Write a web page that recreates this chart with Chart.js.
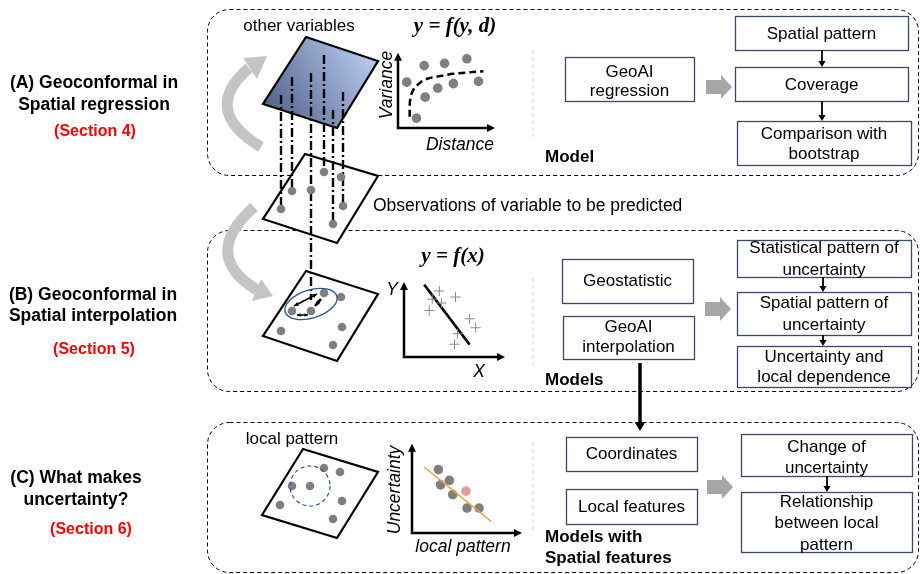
<!DOCTYPE html>
<html>
<head>
<meta charset="utf-8">
<script src="https://cdn.jsdelivr.net/npm/chart.js@4.4.0/dist/chart.umd.min.js"></script>
<style>
html, body { margin: 0; padding: 0; background: #fff; }
#wrap { position: relative; width: 920px; height: 574px; overflow: hidden; }
#wrap canvas { position: absolute; }
</style>
</head>
<body>
<div id="wrap">
  <canvas id="diagram" width="920" height="574" style="left:0;top:0"></canvas>
  <canvas id="plotA"></canvas>
  <canvas id="plotB"></canvas>
  <canvas id="plotC"></canvas>
</div>
<script>
// (A) variance vs distance
const distValues = [1.9, 0.9, 2.7, 4.8, 7.1, 2.8, 4.1, 5.7, 8.3];
const varianceValues = [1.3, 6.1, 8.3, 8.6, 9.2, 4.1, 5.3, 5.9, 6.2];
const fitDist = [1.2, 1.25, 1.55, 2.3, 3.0, 4.3, 5.7, 8.8];
const fitVariance = [1.5, 3.7, 5.0, 6.05, 6.55, 6.9, 7.2, 7.55];

// (B) y = f(x)
const obsX = [3.5, 2.8, 3.7, 5.1, 2.5, 6.5, 7.1, 5.3, 5.0];
const obsY = [8.8, 7.7, 7.2, 8.0, 6.2, 5.1, 3.9, 3.1, 1.7];
const regX = [2.0, 6.5];
const regY = [9.65, 1.65];

// (C) uncertainty vs local pattern
const localX = [2.4, 3.4, 2.6, 3.7, 5.0, 6.1];
const uncertY = [7.1, 5.9, 5.4, 4.3, 2.8, 2.8];
const highlightX = [4.9];
const highlightY = [4.7];
const trendX = [1.1, 7.2];
const trendY = [7.4, 1.3];

// labels
const rowTitles = [['(A) Geoconformal in', 'Spatial regression'], ['(B) Geoconformal in', 'Spatial interpolation'], ['(C) What makes', 'uncertainty?']];
const sectionLabels = ['(Section 4)', '(Section 5)', '(Section 6)'];
const modelLabels = [['Model'], ['Models'], ['Models with', 'Spatial features']];

function pts(xs, ys) {
    return xs.map(function (x, i) { return {x: x, y: ys[i]}; });
}

const SANS = '"Liberation Sans", Arial, sans-serif';
const SERIF = '"Liberation Serif", "Times New Roman", serif';
const BOX = '#3a4766';
const DOT = '#7f7f7f';

const boxes = [
    {r: [565, 57, 694, 101], t: ['GeoAI', 'regression'], ty: [72, 91]},
    {r: [735, 16, 908, 50], t: ['Spatial pattern'], ty: [34]},
    {r: [735, 67, 908, 101], t: ['Coverage'], ty: [85]},
    {r: [737, 121, 911, 165], t: ['Comparison with', 'bootstrap'], ty: [134, 154]},
    {r: [562, 259, 693, 303], t: ['Geostatistic'], ty: [281]},
    {r: [563, 316, 694, 359], t: ['GeoAI', 'interpolation'], ty: [327, 347]},
    {r: [737, 240, 911, 277], t: ['Statistical pattern of', 'uncertainty'], ty: [248, 270]},
    {r: [737, 292, 911, 335], t: ['Spatial pattern of', 'uncertainty'], ty: [303, 325]},
    {r: [737, 346, 911, 387], t: ['Uncertainty and', 'local dependence'], ty: [357, 377]},
    {r: [566, 437, 697, 471], t: ['Coordinates'], ty: [454]},
    {r: [566, 489, 697, 524], t: ['Local features'], ty: [507]},
    {r: [741, 434, 912, 476], t: ['Change of', 'uncertainty'], ty: [447, 468]},
    {r: [741, 492, 912, 552], t: ['Relationship', 'between local', 'pattern'], ty: [502, 523, 545]}
];

const diagramPlugin = {
    id: 'diagram',
    beforeDraw: function (chart) {
        const ctx = chart.ctx;
        const sx = chart.scales.x, sy = chart.scales.y;
        const X = function (v) { return sx.getPixelForValue(v); };
        const Y = function (v) { return sy.getPixelForValue(v); };

        function text(s, x, y, font, color, align) {
            ctx.font = font;
            ctx.fillStyle = color || '#000';
            ctx.textAlign = align || 'center';
            ctx.textBaseline = 'middle';
            ctx.fillText(s, X(x), Y(y));
        }
        function poly(p) {
            ctx.beginPath();
            ctx.moveTo(X(p[0][0]), Y(p[0][1]));
            for (let i = 1; i < p.length; i++) ctx.lineTo(X(p[i][0]), Y(p[i][1]));
            ctx.closePath();
        }
        function dot(x, y) {
            ctx.beginPath();
            ctx.arc(X(x), Y(y), 4.3, 0, Math.PI * 2);
            ctx.fillStyle = DOT;
            ctx.fill();
        }
        function downArrow(x, y1, y2, w, head) {
            ctx.strokeStyle = '#000';
            ctx.lineWidth = w;
            ctx.setLineDash([]);
            ctx.beginPath();
            ctx.moveTo(X(x), Y(y1));
            ctx.lineTo(X(x), Y(y2 - head));
            ctx.stroke();
            ctx.fillStyle = '#000';
            poly([[x - head * 0.6, y2 - head], [x + head * 0.6, y2 - head], [x, y2]]);
            ctx.fill();
        }
        function blockArrow(x1, x2, yc) {
            ctx.fillStyle = '#a6a6a6';
            poly([[x1, yc - 7], [x2 - 11, yc - 7], [x2 - 11, yc - 12], [x2, yc], [x2 - 11, yc + 12], [x2 - 11, yc + 7], [x1, yc + 7]]);
            ctx.fill();
        }

        ctx.save();
        ctx.fillStyle = '#fff';
        ctx.fillRect(0, 0, chart.width, chart.height);

        // dashed panels
        ctx.strokeStyle = '#000';
        ctx.lineWidth = 1;
        ctx.setLineDash([4, 3]);
        [[207, 9, 918, 175], [207, 230, 918, 391], [207, 422, 918, 572]].forEach(function (p) {
            ctx.beginPath();
            ctx.roundRect(X(p[0]) + 0.5, Y(p[1]) + 0.5, X(p[2]) - X(p[0]), Y(p[3]) - Y(p[1]), 22);
            ctx.stroke();
        });
        // faint separators
        ctx.strokeStyle = '#e2e2e2';
        ctx.lineWidth = 1.5;
        [[50, 137], [278, 365], [442, 530]].forEach(function (s) {
            ctx.beginPath();
            ctx.moveTo(X(533), Y(s[0]));
            ctx.lineTo(X(533), Y(s[1]));
            ctx.stroke();
        });
        ctx.setLineDash([]);

        // curved gray arrows
        ctx.strokeStyle = '#c4c4c4';
        ctx.lineWidth = 11;
        ctx.beginPath();
        ctx.moveTo(X(261), Y(147));
        ctx.quadraticCurveTo(X(200), Y(110), X(249), Y(68));
        ctx.stroke();
        ctx.fillStyle = '#c4c4c4';
        poly([[243, 58], [257, 79], [267, 56]]);
        ctx.fill();
        ctx.beginPath();
        ctx.moveTo(X(254), Y(207));
        ctx.quadraticCurveTo(X(200), Y(255), X(257), Y(290));
        ctx.stroke();
        poly([[261, 279], [252, 301], [273, 296]]);
        ctx.fill();

        // top plane (other variables)
        const g = ctx.createLinearGradient(X(265), Y(118), X(372), Y(52));
        g.addColorStop(0, '#4e5d85');
        g.addColorStop(1, '#b9cdf0');
        poly([[306, 37], [378, 61], [337, 128], [263, 104]]);
        ctx.fillStyle = g;
        ctx.fill();
        ctx.lineWidth = 2.2;
        ctx.strokeStyle = '#000';
        ctx.stroke();

        // white planes
        [[[305, 154], [378, 176], [337, 243], [263, 219]],
         [[306, 271], [378, 294], [337, 361], [263, 336]],
         [[303, 449], [378, 472], [337, 538], [262, 515]]].forEach(function (p) {
            poly(p);
            ctx.fillStyle = '#fff';
            ctx.fill();
            ctx.stroke();
        });

        // dash-dot projection lines
        ctx.setLineDash([9, 3, 2, 3]);
        ctx.lineWidth = 2.4;
        [[281, 95, 209], [292, 77, 191], [311, 73, 300], [324, 55, 172], [333, 110, 224], [343, 92, 206]].forEach(function (l) {
            ctx.beginPath();
            ctx.moveTo(X(l[0]), Y(l[1]));
            ctx.lineTo(X(l[0]), Y(l[2]));
            ctx.stroke();
        });
        ctx.setLineDash([]);

        [[324, 172], [341, 177], [292, 191], [311, 190], [281, 209], [333, 224], [343, 206],
         [324, 293], [341, 297], [292, 311], [311, 311], [281, 331], [342, 327], [333, 345],
         [324, 468], [340, 472], [292, 486], [310, 486], [280, 505], [342, 501], [333, 519]].forEach(function (d) {
            dot(d[0], d[1]);
        });

        // neighbourhood ellipse + circle
        ctx.strokeStyle = '#2f5597';
        ctx.lineWidth = 1.4;
        ctx.beginPath();
        ctx.ellipse(X(311), Y(304), 27, 14, -0.3, 0, Math.PI * 2);
        ctx.stroke();
        ctx.setLineDash([4, 3]);
        ctx.lineWidth = 1.2;
        ctx.beginPath();
        ctx.arc(X(310), Y(486), 20, 0, Math.PI * 2);
        ctx.stroke();
        ctx.setLineDash([]);

        // small distance arrows
        ctx.strokeStyle = '#000';
        ctx.fillStyle = '#000';
        ctx.lineWidth = 1.5;
        function dbl(x1, y1, x2, y2, h) {
            ctx.beginPath();
            ctx.moveTo(X(x1), Y(y1));
            ctx.lineTo(X(x2), Y(y2));
            ctx.stroke();
            const a = Math.atan2(y2 - y1, x2 - x1);
            [[x2, y2, a], [x1, y1, a + Math.PI]].forEach(function (e) {
                poly([[e[0], e[1]],
                      [e[0] - h * Math.cos(e[2] - 0.45), e[1] - h * Math.sin(e[2] - 0.45)],
                      [e[0] - h * Math.cos(e[2] + 0.45), e[1] - h * Math.sin(e[2] + 0.45)]]);
                ctx.fill();
            });
        }
        dbl(294, 306, 317, 294, 5);
        dbl(297, 315, 308, 315, 4);
        ctx.lineWidth = 2.5;
        dbl(315, 306, 321, 299, 5);

        // texts
        text('other variables', 299, 26, '17px ' + SANS);
        text('y = f(y, d)', 455, 27, 'bold italic 21px ' + SERIF);
        text('y = f(x)', 453, 257, 'bold italic 21px ' + SERIF);
        text('Observations of variable to be predicted', 373, 206, '17.5px ' + SANS, '#000', 'left');
        text('local pattern', 292, 439, '17px ' + SANS);

        const titleX = [94, 93, 76], titleY = [[83, 105], [295, 316], [478, 500]];
        const secX = [95, 94, 91], secY = [132, 350, 530];
        rowTitles.forEach(function (t, i) {
            t.forEach(function (s, j) { text(s, titleX[i], titleY[i][j], 'bold 17.5px ' + SANS); });
            text(sectionLabels[i], secX[i], secY[i], 'bold 16px ' + SANS, '#ff0000');
        });
        const modelY = [[157], [380], [537, 558]];
        modelLabels.forEach(function (m, i) {
            m.forEach(function (s, j) { text(s, 545, modelY[i][j], 'bold 17px ' + SANS, '#000', 'left'); });
        });

        // boxes
        boxes.forEach(function (b) {
            ctx.strokeStyle = BOX;
            ctx.lineWidth = 1.3;
            ctx.strokeRect(X(b.r[0]) + 0.5, Y(b.r[1]) + 0.5, X(b.r[2]) - X(b.r[0]), Y(b.r[3]) - Y(b.r[1]));
            const cx = (b.r[0] + b.r[2]) / 2;
            b.t.forEach(function (s, j) { text(s, cx, b.ty[j], '17px ' + SANS); });
        });

        // arrows between boxes
        [[822, 50, 67], [822, 101, 121], [823, 277, 292], [823, 335, 346], [827, 476, 492]].forEach(function (a) {
            downArrow(a[0], a[1], a[2], 1.8, 6);
        });
        downArrow(640, 363, 431, 3.5, 9);
        blockArrow(706, 732, 87);
        blockArrow(705, 731, 309);
        blockArrow(707, 733, 487);

        ctx.restore();
    }
};

new Chart(document.getElementById('diagram').getContext('2d'), {
    type: 'scatter',
    data: {datasets: []},
    options: {
        responsive: false,
        animation: false,
        layout: {padding: 0},
        scales: {
            x: {display: false, min: 0, max: 920},
            y: {display: false, min: 0, max: 574, reverse: true}
        },
        plugins: {legend: {display: false}, tooltip: {enabled: false}}
    },
    plugins: [diagramPlugin]
});

function axesPlugin(xLabel, yLabel) {
    return {
        id: 'axes',
        afterDraw: function (chart) {
            const ctx = chart.ctx, a = chart.chartArea;
            ctx.save();
            ctx.strokeStyle = '#000';
            ctx.fillStyle = '#000';
            ctx.lineWidth = 2.5;
            ctx.beginPath();
            ctx.moveTo(a.left, a.top + 6);
            ctx.lineTo(a.left, a.bottom);
            ctx.lineTo(a.right - 6, a.bottom);
            ctx.stroke();
            ctx.beginPath();
            ctx.moveTo(a.left - 4, a.top + 8);
            ctx.lineTo(a.left + 4, a.top + 8);
            ctx.lineTo(a.left, a.top);
            ctx.fill();
            ctx.beginPath();
            ctx.moveTo(a.right - 8, a.bottom - 4);
            ctx.lineTo(a.right - 8, a.bottom + 4);
            ctx.lineTo(a.right, a.bottom);
            ctx.fill();
            ctx.font = 'italic 17.5px ' + SANS;
            ctx.textAlign = 'center';
            ctx.textBaseline = 'middle';
            ctx.fillText(xLabel.s, a.left + xLabel.dx, a.bottom + xLabel.dy);
            ctx.translate(a.left + yLabel.dx, a.bottom + yLabel.dy);
            if (yLabel.rot) ctx.rotate(-Math.PI / 2);
            ctx.fillText(yLabel.s, 0, 0);
            ctx.restore();
        }
    };
}

function miniPlot(id, ox, oy, w, h, datasets, xLabel, yLabel) {
    const padL = 32, padR = 6, padT = 4, padB = 28;
    const cv = document.getElementById(id);
    cv.width = w + padL + padR;
    cv.height = h + padT + padB;
    cv.style.left = (ox - padL) + 'px';
    cv.style.top = (oy - h - padT) + 'px';
    return new Chart(cv.getContext('2d'), {
        type: 'scatter',
        data: {datasets: datasets},
        options: {
            responsive: false,
            animation: false,
            layout: {padding: {left: padL, right: padR, top: padT, bottom: padB}},
            scales: {
                x: {display: false, min: 0, max: 10},
                y: {display: false, min: 0, max: 10}
            },
            plugins: {legend: {display: false}, tooltip: {enabled: false}}
        },
        plugins: [axesPlugin(xLabel, yLabel)]
    });
}

miniPlot('plotA', 398, 128, 97, 76, [
    {data: pts(distValues, varianceValues), pointRadius: 4.8, backgroundColor: DOT, borderWidth: 0},
    {data: pts(fitDist, fitVariance), showLine: true, tension: 0.35, pointRadius: 0,
     borderColor: '#000', borderWidth: 2.5, borderDash: [7, 4]}
], {s: 'Distance', dx: 62, dy: 17}, {s: 'Variance', dx: -11, dy: -43, rot: true});

miniPlot('plotB', 404, 357, 101, 77, [
    {data: pts(obsX, obsY), pointStyle: 'cross', pointRadius: 5, borderColor: '#8a8a8a', borderWidth: 1},
    {data: pts(regX, regY), showLine: true, pointRadius: 0, borderColor: '#000', borderWidth: 2.5}
], {s: 'X', dx: 75, dy: 15}, {s: 'Y', dx: -12, dy: -67, rot: false});

miniPlot('plotC', 412, 533, 110, 90, [
    {data: pts(trendX, trendY), showLine: true, pointRadius: 0, borderColor: '#f2a33a', borderWidth: 1.5},
    {data: pts(localX, uncertY), pointRadius: 4.8, backgroundColor: DOT, borderWidth: 0},
    {data: pts(highlightX, highlightY), pointRadius: 4.8, backgroundColor: '#e89a9a', borderWidth: 0}
], {s: 'local pattern', dx: 51, dy: 14}, {s: 'Uncertainty', dx: -17, dy: -43, rot: true});
</script>
</body>
</html>
